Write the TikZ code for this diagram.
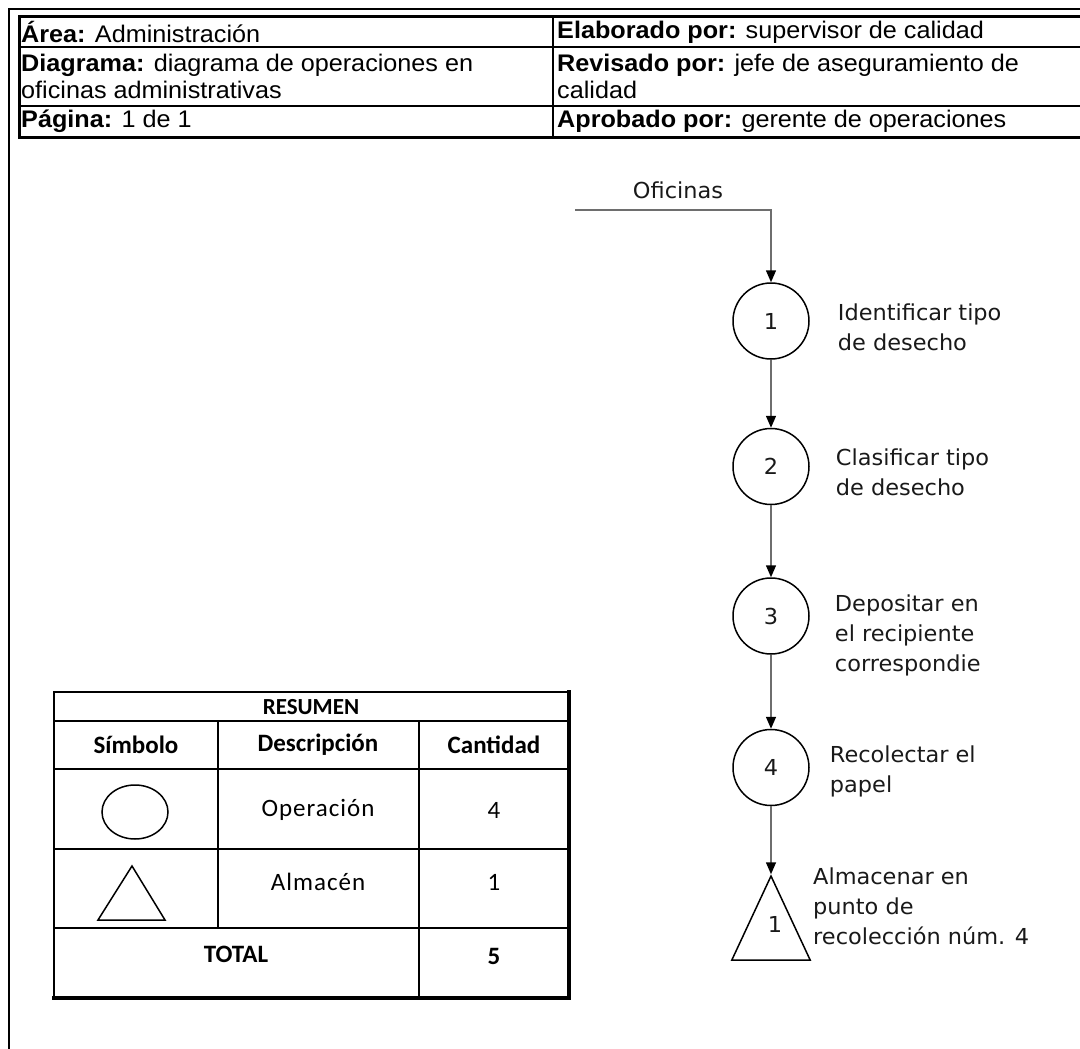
\documentclass[tikz,border=0pt]{standalone}
\usepackage{fontspec}
\newfontfamily\hdrfont[FakeStretch=1.05]{Liberation Sans}
\newfontfamily\flowfont[FakeStretch=1.02]{DejaVu Sans}
\newfontfamily\sumfont{Carlito}
\newfontfamily\sumfontw[LetterSpace=4]{Carlito}
\usetikzlibrary{positioning, calc, arrows.meta, shapes.geometric}
\definecolor{flowgray}{RGB}{110,110,110}
\tikzset{>={Triangle[length=12pt, width=10pt, color=black]}}

\begin{document}
\begin{tikzpicture}
    [x=1pt, y=-1pt,
     hdr/.style={anchor=west, inner sep=0pt, align=left, font=\hdrfont\fontsize{24}{27}\selectfont},
     op/.style={draw, circle, minimum size=76pt, inner sep=0pt, line width=1.5pt, text=black!90, font=\flowfont\fontsize{22}{30}\selectfont},
     desc/.style={inner sep=0pt, align=left, text=black!90, font=\flowfont\fontsize{22}{30}\selectfont},
     flow/.style={draw=flowgray, line width=1.5pt},
     cell/.style={inner sep=0pt, font=\sumfontw\fontsize{25}{28}\selectfont},
     cellb/.style={inner sep=0pt, font=\sumfont\bfseries\fontsize{25}{28}\selectfont}]
    \useasboundingbox (0,0) rectangle (1080,1049);

    % marco y encabezado
    \draw [line width=2pt] (9,1060) -- (9,9) -- (1090,9);
    \draw [line width=3pt] (19,17) rectangle (1090,137);
    \draw [line width=1.8pt] (19,47) -- (1090,47) (19,106) -- (1090,106) (553,17) -- (553,137);

    \node [hdr] (area) at (21,32) {\textbf{Área:} Administración};
    \node [hdr] (diag) at (21,76) {\textbf{Diagrama:} diagrama de operaciones en\\oficinas administrativas};
    \node [hdr] (pag) at (21,121) {\textbf{Página:} 1 de 1};
    \node [hdr] (elab) at (557,32) {\textbf{Elaborado por:} supervisor de calidad};
    \node [hdr] (rev) at (557,76) {\textbf{Revisado por:} jefe de aseguramiento de\\calidad};
    \node [hdr] (apro) at (557,121) {\textbf{Aprobado por:} gerente de operaciones};

    % diagrama
    \node [desc] (ofi) at (678,190) {Oficinas};
    \coordinate (src) at (575,210);
    \node [op] (op1) at (771,321) {1};
    \node [op, below=68pt of op1] (op2) {2};
    \node [op, below=72pt of op2] (op3) {3};
    \node [op, below=74pt of op3] (op4) {4};
    \node [draw, isosceles triangle, isosceles triangle apex angle=50, shape border rotate=90,
           minimum height=84pt, inner sep=0pt, line width=1.5pt, below=68pt of op4, anchor=apex] (alm) {};
    \node [desc] (nalm) at ($(alm.apex)+(4,50)$) {1};

    \node [desc, right=28pt of op1, yshift=-6pt] (d1) {Identificar tipo\\de desecho};
    \node [desc, right=26pt of op2, yshift=-6pt] (d2) {Clasificar tipo\\de desecho};
    \node [desc, right=25pt of op3, yshift=-19pt] (d3) {Depositar en\\el recipiente\\correspondie};
    \node [desc, right=20pt of op4, yshift=-4pt] (d4) {Recolectar el\\papel};
    \node [desc, anchor=west] (d5) at ($(alm.apex)+(42,32)$) {Almacenar en\\punto de\\recolección núm. 4};

    \draw [flow, ->] (src) -| (op1);
    \draw [flow, ->] (op1) -- (op2);
    \draw [flow, ->] (op2) -- (op3);
    \draw [flow, ->] (op3) -- (op4);
    \draw [flow, ->] (op4) -- (alm.apex);

    % resumen
    \draw [line width=2pt] (54,692) rectangle (569,998);
    \draw [line width=4pt] (569,690) -- (569,998) -- (52,998);
    \draw [line width=2pt] (54,721) -- (569,721) (54,769) -- (569,769)
                           (54,849) -- (569,849) (54,928) -- (569,928);
    \draw [line width=2pt] (218,721) -- (218,928) (419,721) -- (419,998);
    \draw [line width=1.5pt] (135,812) ellipse [x radius=33pt, y radius=27pt];
    \draw [line width=1.5pt] (132,866) -- (165,920) -- (98,920) -- cycle;

    \node [cellb, font=\sumfont\bfseries\fontsize{23}{26}\selectfont] (res) at (311,707) {RESUMEN};
    \node [cellb] (sim) at (136,745) {Símbolo};
    \node [cellb] (des) at (318,745) {Descripción};
    \node [cellb] (can) at (494,745) {Cantidad};
    \node [cell] (oper) at (318,810) {Operación};
    \node [cell] (ncir) at (494,810) {4};
    \node [cell] (almc) at (318,882) {Almacén};
    \node [cell] (ntri) at (494,882) {1};
    \node [cellb] (tot) at (236,954) {TOTAL};
    \node [cellb] (ntot) at (494,956) {5};
\end{tikzpicture}
\end{document}
